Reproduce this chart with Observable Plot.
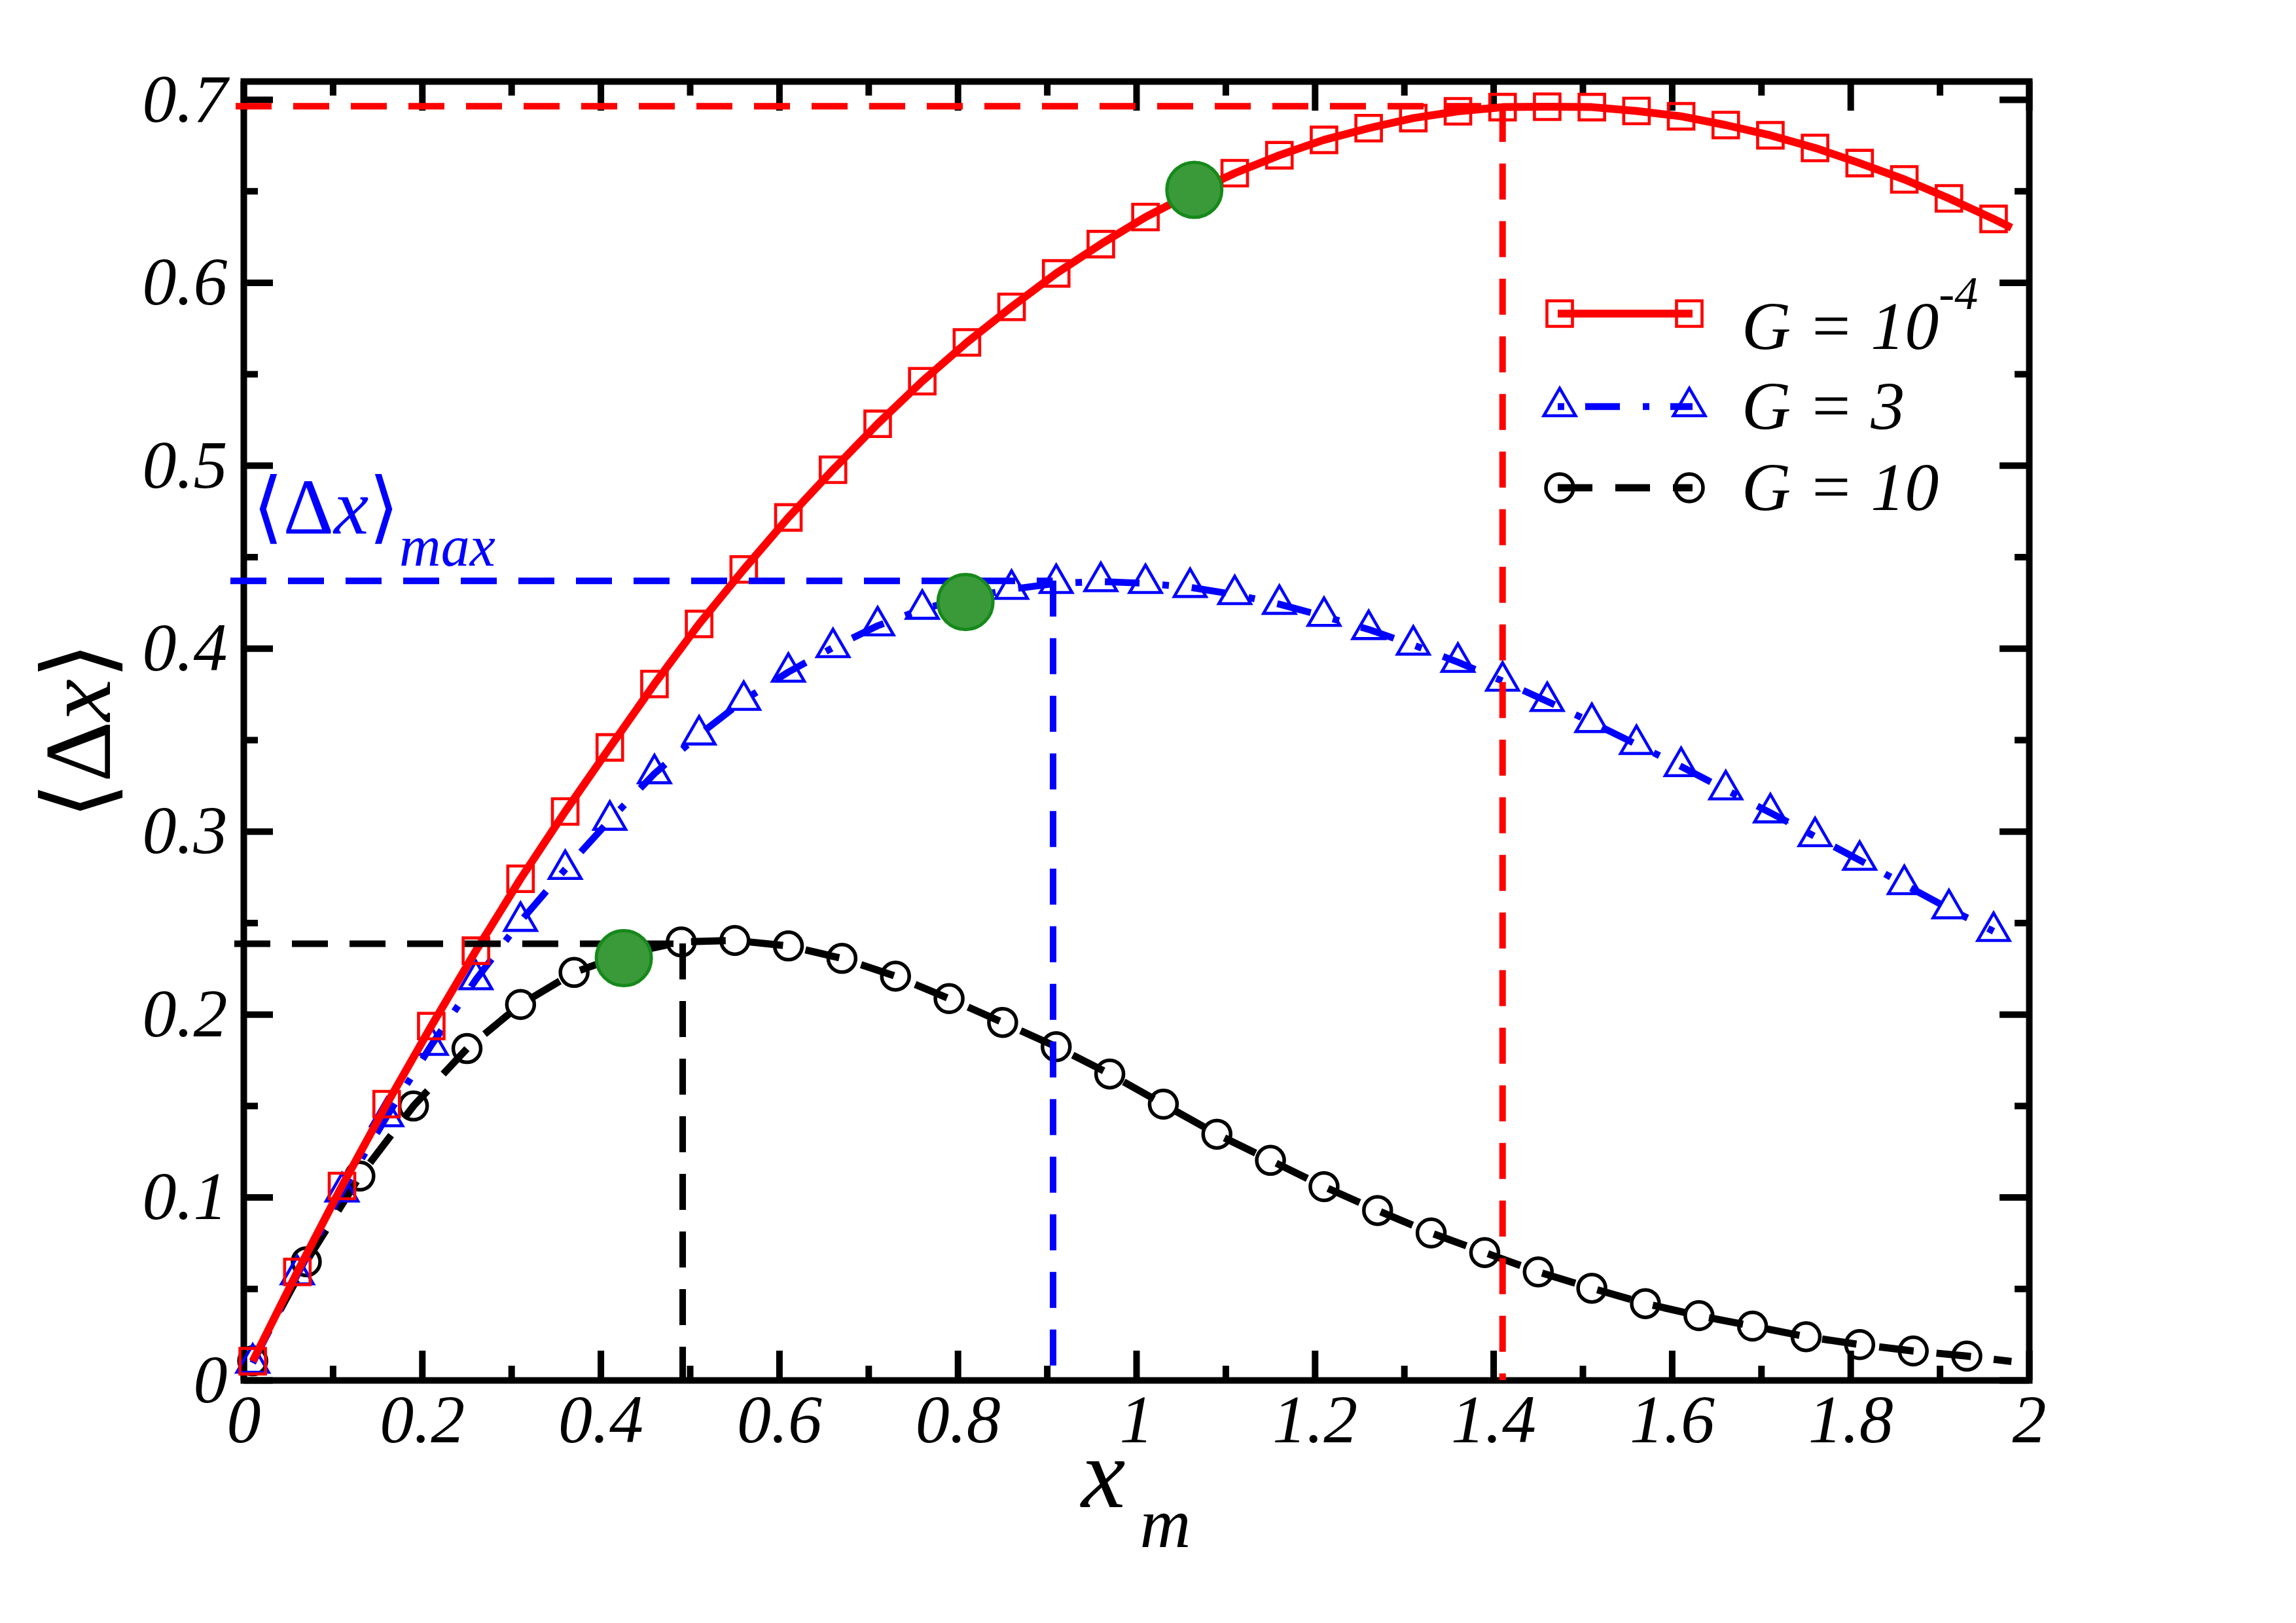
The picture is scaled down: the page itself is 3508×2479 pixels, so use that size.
<!DOCTYPE html>
<html>
<head>
<meta charset="utf-8">
<script src="https://cdn.jsdelivr.net/npm/d3@7"></script>
<script src="https://cdn.jsdelivr.net/npm/@observablehq/plot@0.6"></script>
<style>
html, body { margin: 0; padding: 0; background: #fff; }
#chart svg { display: block; }
</style>
</head>
<body>
<div id="chart"></div>
<script>
// ---------------- data ----------------
const redX = [0.01,0.06,0.11,0.16,0.21,0.26,0.31,0.36,0.41,0.46,0.51,0.56,0.61,0.66,0.71,0.76,0.81,0.86,0.91,0.96,
              1.01,1.06,1.11,1.16,1.21,1.26,1.31,1.36,1.41,1.46,1.51,1.56,1.61,1.66,1.71,1.76,1.81,1.86,1.91,1.96];
const redY = [0.0105,0.0593,0.1063,0.151,0.1937,0.2349,0.2742,0.311,0.346,0.3807,0.4135,0.4433,0.4717,0.4978,0.5229,0.5462,0.5674,0.5868,0.6051,0.6211,
              0.6359,0.6485,0.6599,0.6697,0.6781,0.6845,0.69,0.6937,0.696,0.6962,0.696,0.6939,0.691,0.6862,0.6806,0.6737,0.6654,0.6565,0.6461,0.6349];
const redLineEnd = {x: 1.98, y: 0.6301};

const blueX = [0.01,0.06,0.11,0.16,0.21,0.26,0.31,0.36,0.41,0.46,0.51,0.56,0.61,0.66,0.71,0.76,0.81,0.86,0.91,0.96,
               1.01,1.06,1.11,1.16,1.21,1.26,1.31,1.36,1.41,1.46,1.51,1.56,1.61,1.66,1.71,1.76,1.81,1.86,1.91,1.96];
const blueY = [0.0095,0.0578,0.1031,0.1442,0.1832,0.2191,0.251,0.2794,0.3063,0.3317,0.3529,0.3718,0.3872,0.4006,0.4125,0.4216,0.4278,0.4325,0.4357,0.4367,
               0.4357,0.4335,0.4296,0.4243,0.4177,0.4105,0.402,0.3926,0.3823,0.3712,0.3597,0.3477,0.3356,0.3229,0.3103,0.2973,0.2844,0.2711,0.2579,0.2455];

const blackX = [0.01,0.07,0.13,0.19,0.25,0.31,0.37,0.43,0.49,0.55,0.61,0.67,0.73,0.79,0.85,0.91,0.97,
                1.03,1.09,1.15,1.21,1.27,1.33,1.39,1.45,1.51,1.57,1.63,1.69,1.75,1.81,1.87,1.93];
const blackY = [0.0107,0.0649,0.1117,0.15,0.1814,0.2055,0.223,0.2335,0.2397,0.2405,0.2375,0.2307,0.221,0.2087,0.1957,0.1824,0.1675,
                0.151,0.1346,0.1203,0.1059,0.0929,0.0806,0.0699,0.0593,0.0504,0.042,0.0354,0.0297,0.0239,0.0196,0.0161,0.0133];
const blackLineEnd = {x: 1.98, y: 0.0104};

// maxima guides (red G=1e-4, blue G=3, black G=10)
const peakX = [1.41, 0.9065, 0.4916];
const peakY = [0.6965, 0.437, 0.2387];

// green highlighted points
const greenX = [1.0647, 0.8084, 0.4257];
const greenY = [0.6508, 0.4255, 0.2308];

// ticks
const xMajor = [0, 0.2, 0.4, 0.6, 0.8, 1, 1.2, 1.4, 1.6, 1.8, 2];
const xMinor = [0.1, 0.3, 0.5, 0.7, 0.9, 1.1, 1.3, 1.5, 1.7, 1.9];
const yMajor = [0, 0.1, 0.2, 0.3, 0.4, 0.5, 0.6, 0.7];
const yMinor = [0.05, 0.15, 0.25, 0.35, 0.45, 0.55, 0.65];
const xTickLabels = ["0","0.2","0.4","0.6","0.8","1","1.2","1.4","1.6","1.8","2"];
const yTickLabels = ["0","0.1","0.2","0.3","0.4","0.5","0.6","0.7"];

const legendLabels = [{base: "G = 10", sup: "-4"}, {base: "G = 3", sup: ""}, {base: "G = 10", sup: ""}];

// ---------------- build ----------------
const pts = (X, Y) => X.map((x, i) => ({x, y: Y[i]}));
const redPts = pts(redX, redY), bluePts = pts(blueX, blueY), blackPts = pts(blackX, blackY);
const redLine = redPts.concat([redLineEnd]);
const blackLine = blackPts.concat([blackLineEnd]);
const redPeak = [{x: peakX[0], y: peakY[0]}];
const bluePeak = [{x: peakX[1], y: peakY[1]}];
const blackPeak = [{x: peakX[2], y: peakY[2]}];
const greens = pts(greenX, greenY);

const W = 3508, H = 2479;
const mL = 372, mR = 408, mT = 124, mB = 371;
const plotW = W - mL - mR, plotH = H - mT - mB;
const TMAJ = 45, TMIN = 22, TW = 10;
const SERIF = "'Liberation Serif', 'Times New Roman', 'DejaVu Serif', serif";
const RED = "#ff0000", BLUE = "#0000ff", GREEN_FILL = "#3a9a3a", GREEN_STROKE = "#16891a";

const xFmt = d => xTickLabels[xMajor.indexOf(d)];
const yFmt = d => yTickLabels[yMajor.indexOf(d)];

const svg = Plot.plot({
  width: W, height: H,
  marginLeft: mL, marginRight: mR, marginTop: mT, marginBottom: mB,
  x: {domain: [0, 2], label: null},
  y: {domain: [0, 0.71], label: null},
  style: {background: "#fff", fontFamily: SERIF},
  marks: [
    // inward ticks on all four sides
    Plot.tickX(xMajor, {x: d => d, insetTop: plotH - TMAJ, strokeWidth: TW}),
    Plot.tickX(xMajor, {x: d => d, insetBottom: plotH - TMAJ, strokeWidth: TW}),
    Plot.tickX(xMinor, {x: d => d, insetTop: plotH - TMIN, strokeWidth: TW}),
    Plot.tickX(xMinor, {x: d => d, insetBottom: plotH - TMIN, strokeWidth: TW}),
    Plot.tickY(yMajor, {y: d => d, insetRight: plotW - TMAJ, strokeWidth: TW}),
    Plot.tickY(yMajor, {y: d => d, insetLeft: plotW - TMAJ, strokeWidth: TW}),
    Plot.tickY(yMinor, {y: d => d, insetRight: plotW - TMIN, strokeWidth: TW}),
    Plot.tickY(yMinor, {y: d => d, insetLeft: plotW - TMIN, strokeWidth: TW}),
    Plot.frame({stroke: "black", strokeWidth: 10}),
    Plot.axisX(xMajor, {anchor: "bottom", tickSize: 0, tickPadding: 21, tickFormat: xFmt,
      fontSize: 104, fontStyle: "italic", fontFamily: SERIF, label: null}),
    Plot.axisY(yMajor, {anchor: "left", tickSize: 0, tickPadding: 25, tickFormat: yFmt,
      fontSize: 104, fontStyle: "italic", fontFamily: SERIF, label: null}),

    // G = 10 (black, dashed, circles)
    Plot.line(blackLine, {x: "x", y: "y", stroke: "black", strokeWidth: 11, strokeDasharray: "53,35", strokeLinecap: "butt"}),
    Plot.dot(blackPts, {x: "x", y: "y", r: 21, stroke: "black", strokeWidth: 5.5, fill: "none"}),
    // G = 3 (blue, dash-dot, triangles)
    Plot.line(bluePts, {x: "x", y: "y", stroke: BLUE, strokeWidth: 10.5, strokeDasharray: "53,35,10,35", strokeLinecap: "butt"}),
    Plot.dot(bluePts, {x: "x", y: "y", symbol: "triangle", r: 18, stroke: BLUE, strokeWidth: 4.6, fill: "none"}),
    // G = 1e-4 (red, solid, squares)
    Plot.line(redLine, {x: "x", y: "y", stroke: RED, strokeWidth: 12, strokeLinecap: "butt"}),
    Plot.dot(redPts, {x: "x", y: "y", symbol: "square", r: 22, stroke: RED, strokeWidth: 4.6, fill: "none"}),

    // maxima guides
    Plot.ruleY(redPeak, {y: "y", x1: 0, x2: "x", insetLeft: -12, stroke: RED, strokeWidth: 10, strokeDasharray: "55,33"}),
    Plot.ruleX(redPeak, {x: "x", y1: "y", y2: 0, stroke: RED, strokeWidth: 10, strokeDasharray: "55,33"}),
    Plot.ruleY(bluePeak, {y: "y", x1: 0, x2: "x", insetLeft: -20, stroke: BLUE, strokeWidth: 10, strokeDasharray: "55,33"}),
    Plot.ruleX(bluePeak, {x: "x", y1: "y", y2: 0, stroke: BLUE, strokeWidth: 10, strokeDasharray: "55,33"}),
    Plot.ruleY(blackPeak, {y: "y", x1: 0, x2: "x", insetLeft: -14, stroke: "black", strokeWidth: 10, strokeDasharray: "55,33"}),
    Plot.ruleX(blackPeak, {x: "x", y1: "y", y2: 0, stroke: "black", strokeWidth: 10, strokeDasharray: "55,33"}),

    // highlighted points
    Plot.dot(greens, {x: "x", y: "y", r: 42, fill: GREEN_FILL, stroke: GREEN_STROKE, strokeWidth: 5})
  ]
});

document.getElementById("chart").appendChild(svg);

// ---------------- rich-text annotations & legend ----------------
const sx = svg.scale("x").apply, sy = svg.scale("y").apply;
const root = d3.select(svg);
const ann = root.append("g").attr("font-family", SERIF).attr("text-anchor", "start");

// y-axis title  <Δx>
const yl = ann.append("text")
  .attr("transform", `translate(${mL - 204},${mT + plotH / 2}) rotate(-90)`)
  .attr("text-anchor", "middle").attr("font-size", 145).attr("fill", "black");
yl.append("tspan").text("\u27E8\u0394");
yl.append("tspan").attr("font-style", "italic").text("x");
yl.append("tspan").text("\u27E9");

// x-axis title  x_m (two separate texts so the subscript sits beside the x)
const xMain = ann.append("text")
  .attr("x", mL + plotW / 2 - 84).attr("y", mT + plotH + 194)
  .attr("text-anchor", "start").attr("font-style", "italic").attr("font-size", 152)
  .attr("fill", "black").text("x");
const xw = xMain.node().getComputedTextLength();
ann.append("text")
  .attr("x", mL + plotW / 2 - 84 + xw + 22).attr("y", mT + plotH + 255)
  .attr("text-anchor", "start").attr("font-style", "italic").attr("font-size", 108)
  .attr("fill", "black").text("m");

// <Δx>_max label (blue), tied to the blue maximum
const ml = ann.append("text")
  .attr("x", sx(0) + 14).attr("y", sy(peakY[1]) - 72)
  .attr("text-anchor", "start")
  .attr("fill", BLUE).attr("font-size", 120);
ml.append("tspan").text("\u27E8\u0394");
ml.append("tspan").attr("font-style", "italic").text("x");
ml.append("tspan").text("\u27E9");
ml.append("tspan").attr("font-style", "italic").attr("font-size", 88).attr("dy", 49).text("max");

// legend
const legX0 = 2380, legX1 = 2586, symA = 2383, symB = 2581, textX = 2661;
const rowLineY = [479, 621, 745];
const rowTextY = [533, 655, 779];
const legStyles = [
  {stroke: RED, width: 12, dash: null, sym: d3.symbolSquare, r: 22, sw: 4.6},
  {stroke: BLUE, width: 10.5, dash: "10,32,53,35", sym: d3.symbolTriangle, r: 18, sw: 4.6},
  {stroke: "black", width: 11, dash: "53,35", sym: d3.symbolCircle, r: 21, sw: 5.5}
];
const leg = ann.append("g");
legStyles.forEach((s, i) => {
  const y = rowLineY[i];
  const ln = leg.append("line").attr("x1", legX0).attr("x2", legX1).attr("y1", y).attr("y2", y)
    .attr("stroke", s.stroke).attr("stroke-width", s.width);
  if (s.dash) ln.attr("stroke-dasharray", s.dash);
  [symA, symB].forEach(cx => {
    leg.append("path").attr("d", d3.symbol(s.sym, Math.PI * s.r * s.r)())
      .attr("transform", `translate(${cx},${y})`)
      .attr("fill", "none").attr("stroke", s.stroke).attr("stroke-width", s.sw);
  });
  const t = leg.append("text").attr("x", textX).attr("y", rowTextY[i])
    .attr("text-anchor", "start")
    .attr("font-size", 104).attr("font-style", "italic").attr("fill", "black");
  t.append("tspan").text(legendLabels[i].base);
  if (legendLabels[i].sup) t.append("tspan").attr("font-size", 72).attr("dy", -61).text(legendLabels[i].sup);
});
</script>
</body>
</html>
